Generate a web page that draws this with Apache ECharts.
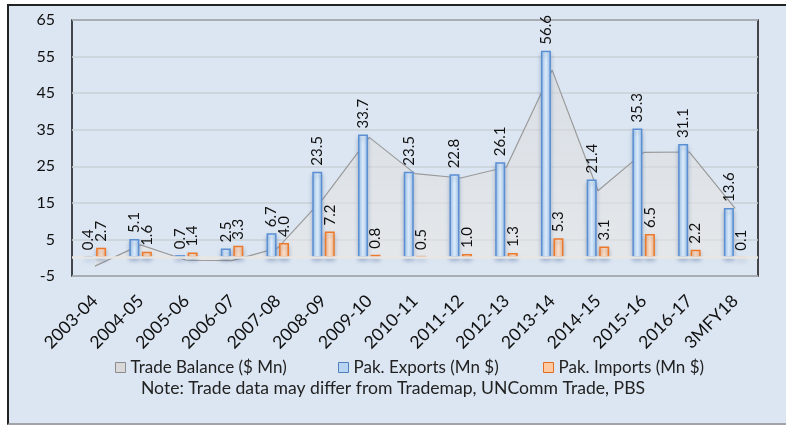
<!DOCTYPE html>
<html>
<head>
<meta charset="utf-8">
<script src="https://cdn.jsdelivr.net/npm/echarts@6/dist/echarts.min.js"></script>
<style>
  html, body { margin: 0; padding: 0; background: #ffffff; }
  #frame { position: absolute; left: 7px; top: 4px; width: 790px; height: 421px; background: #dce6f2;
    border-left: 2px solid #222; border-top: 2px solid #222; border-bottom: 2px solid #a0a4a8; box-sizing: border-box; }
  #chart-container { position: absolute; left: 0; top: 0; width: 786px; height: 425px; }
</style>
</head>
<body>
<div id="frame"></div>
<div id="chart-container"></div>
<script>
var years = ["2003-04", "2004-05", "2005-06", "2006-07", "2007-08", "2008-09", "2009-10", "2010-11",
  "2011-12", "2012-13", "2013-14", "2014-15", "2015-16", "2016-17", "3MFY18"];
var exportsMn = [0.4, 5.1, 0.7, 2.5, 6.7, 23.5, 33.7, 23.5, 22.8, 26.1, 56.6, 21.4, 35.3, 31.1, 13.6];
var importsMn = [2.7, 1.6, 1.4, 3.3, 4.0, 7.2, 0.8, 0.5, 1.0, 1.3, 5.3, 3.1, 6.5, 2.2, 0.1];
var balanceMn = [-2.3, 3.5, -0.7, -0.8, 2.7, 16.3, 32.9, 23.0, 21.8, 24.8, 51.3, 18.3, 28.8, 28.9, 13.5];

var dom = document.getElementById("chart-container");
var myChart = echarts.init(dom, null, { renderer: "canvas" });

const fontName = "Lato";

var barLabel = {
  show: true,
  position: "top",
  rotate: 90,
  align: "left",
  verticalAlign: "middle",
  distance: 6,
  color: "#111",
  fontFamily: fontName,
  fontSize: 15,
  formatter: function (p) { return p.value.toFixed(1); },
};

function legendAt(left, name, fill, stroke) {
  return {
    top: 354,
    left: left,
    itemWidth: 10,
    itemHeight: 10,
    itemGap: 5,
    textStyle: { fontSize: 17, color: "#222", fontFamily: fontName },
    data: [{ name: name, icon: "rect", itemStyle: { color: fill, borderColor: stroke, borderWidth: 1 } }],
  };
}

var option = {
  animation: false,
  backgroundColor: "transparent",
  textStyle: { fontFamily: fontName },
  grid: {
    left: 72,
    right: 28,
    top: 20,
    bottom: 149,
    show: true,
    borderColor: "#111",
    borderWidth: 1.5,
    backgroundColor: "transparent",
  },
  legend: [
    legendAt(110, "Trade Balance ($ Mn)", "#d9d9d9", "#8c8c8c"),
    legendAt(333, "Pak. Exports (Mn $)", "#b9d5f3", "#4f81bd"),
    legendAt(538, "Pak. Imports (Mn $)", "#fcc9a2", "#e46c1e"),
  ],
  graphic: [
    {
      type: "text",
      left: "center",
      top: 379,
      style: {
        text: "Note: Trade data may differ from Trademap, UNComm Trade, PBS",
        font: "17.6px Lato",
        fill: "#222",
      },
    },
  ],
  xAxis: {
    type: "category",
    data: years,
    axisLine: { show: false },
    axisTick: { show: false },
    axisLabel: { rotate: 45, color: "#111", fontSize: 17.5, margin: 22, interval: 0 },
  },
  yAxis: {
    type: "value",
    min: -5,
    max: 65,
    interval: 10,
    axisLine: { show: false },
    axisTick: { show: false },
    axisLabel: { color: "#111", fontSize: 16, margin: 17 },
    splitLine: { lineStyle: { color: "#c9cfd6", width: 1.5 } },
  },
  series: [
    {
      name: "Trade Balance ($ Mn)",
      type: "line",
      data: balanceMn,
      symbol: "none",
      z: 1,
      lineStyle: { color: "#9a9a9a", width: 1.2 },
      areaStyle: {
        color: new echarts.graphic.LinearGradient(0, 0, 0, 1, [
          { offset: 0, color: "rgba(215,215,215,0.7)" },
          { offset: 1, color: "rgba(235,233,230,0.8)" },
        ]),
      },
      markLine: {
        silent: true,
        symbol: "none",
        label: { show: false },
        lineStyle: { color: "#e8e6e3", type: "solid", width: 2.5 },
        data: [{ yAxis: 0 }],
      },
    },
    {
      name: "Pak. Exports (Mn $)",
      type: "bar",
      data: exportsMn,
      barWidth: 10,
      barGap: "25%",
      z: 3,
      itemStyle: {
        borderColor: "#5b8fd1",
        borderWidth: 1.5,
        shadowColor: "rgba(60,90,140,0.35)",
        shadowBlur: 4,
        shadowOffsetY: 3,
        color: new echarts.graphic.LinearGradient(0, 0, 1, 0, [
          { offset: 0, color: "#9cc5f0" },
          { offset: 0.5, color: "#e3f0fc" },
          { offset: 1, color: "#9cc5f0" },
        ]),
      },
      label: barLabel,
    },
    {
      name: "Pak. Imports (Mn $)",
      type: "bar",
      data: importsMn,
      barWidth: 10,
      z: 3,
      itemStyle: {
        borderColor: "#ec7a2c",
        borderWidth: 1.5,
        shadowColor: "rgba(60,90,140,0.35)",
        shadowBlur: 4,
        shadowOffsetY: 3,
        color: new echarts.graphic.LinearGradient(0, 0, 1, 0, [
          { offset: 0, color: "#fbb987" },
          { offset: 0.5, color: "#fde3cf" },
          { offset: 1, color: "#fbb987" },
        ]),
      },
      label: barLabel,
    },
  ],
};

myChart.setOption(option);
window.addEventListener("resize", myChart.resize);
</script>
</body>
</html>
